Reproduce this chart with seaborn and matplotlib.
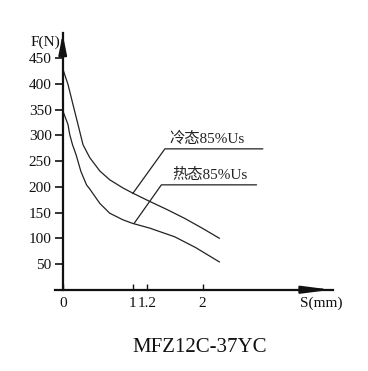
import matplotlib
matplotlib.use("Agg")
import matplotlib.pyplot as plt
import seaborn as sns
import pandas as pd

# 冷态 85%Us 曲线 (S mm, F N)
cold_s = [0.01, 0.076, 0.147, 0.219, 0.29, 0.386, 0.53, 0.67, 0.86, 1.0, 1.24, 1.49, 1.74, 1.99, 2.24]
cold_f = [426, 399, 360, 321, 282, 257, 231, 214, 198, 188, 172, 156, 139, 120, 100]

# 热态 85%Us 曲线
hot_s = [0.01, 0.076, 0.1, 0.14, 0.19, 0.26, 0.34, 0.386, 0.53, 0.67, 0.86, 1.0, 1.24, 1.6, 1.9, 2.24]
hot_f = [345, 321, 302, 282, 263, 230, 204, 196, 168, 149, 136, 129, 120, 103, 82, 54]

# 引线 (leader lines)
cold_lead_s = [1.0, 1.46, 2.86]
cold_lead_f = [187, 274, 274]
hot_lead_s = [1.02, 1.41, 2.77]
hot_lead_f = [129, 204, 204]

x_ticks = [0, 1, 1.2, 2]
x_labels = ["0", "1", "1.2", "2"]
y_ticks = [50, 100, 150, 200, 250, 300, 350, 400, 450]

sns.set_theme(style="white")
plt.rcParams['font.family'] = ['Liberation Serif', 'Noto Sans CJK SC']

fig = plt.figure(figsize=(3.68, 3.71), dpi=100)
ax = fig.add_axes([0.1495, 0.219, 0.755, 0.693])

df_cold = pd.DataFrame({"S": cold_s, "F": cold_f})
df_hot = pd.DataFrame({"S": hot_s, "F": hot_f})
sns.lineplot(data=df_cold, x="S", y="F", ax=ax, color="#222222", lw=0.9, sort=False, estimator=None)
sns.lineplot(data=df_hot, x="S", y="F", ax=ax, color="#222222", lw=0.9, sort=False, estimator=None)
ax.plot(cold_lead_s, cold_lead_f, color="#222222", lw=0.9)
ax.plot(hot_lead_s, hot_lead_f, color="#222222", lw=0.9)

ax.text(1.53, 280, "冷态85%Us", fontsize=11, ha="left", va="bottom", color="#222222")
ax.text(1.56, 210, "热态85%Us", fontsize=11, ha="left", va="bottom", color="#222222")

ax.set_xlim(-0.11, 3.86)
ax.set_ylim(0, 500)

for side in ["top", "right"]:
    ax.spines[side].set_visible(False)
ax.spines["left"].set_position(("data", 0))
for side in ["left", "bottom"]:
    ax.spines[side].set_linewidth(1.6)
    ax.spines[side].set_color("#111111")

# 箭头
ax.annotate("", xy=(0, 503), xytext=(0, 470),
            arrowprops=dict(arrowstyle="-|>,head_length=1.0,head_width=0.2", color="#111111", lw=1.6),
            annotation_clip=False)
ax.annotate("", xy=(3.88, 0), xytext=(3.5, 0),
            arrowprops=dict(arrowstyle="-|>,head_length=1.4,head_width=0.18", color="#111111", lw=1.6),
            annotation_clip=False)

ax.set_xticks(x_ticks)
ax.set_xticklabels(x_labels)
ax.set_yticks(y_ticks)
ax.tick_params(axis="y", left=True, direction="out", length=6, width=1.2, labelsize=11, pad=2, colors="#111111")
ax.tick_params(axis="x", bottom=True, direction="in", length=4, width=1.0, labelsize=11, pad=5, colors="#111111")
ax.set_xlabel("")
ax.set_ylabel("")

ax.text(-0.03, 481, "F(N)", fontsize=11, ha="right", va="center", color="#111111")
ax.text(3.7, -26, "S(mm)", fontsize=11, ha="center", va="center", color="#111111")

fig.text(200 / 368, 1 - 347 / 371, "MFZ12C-37YC", fontsize=15, ha="center", va="center", color="#111111")

fig.savefig("out.png", dpi=100, facecolor="white")
